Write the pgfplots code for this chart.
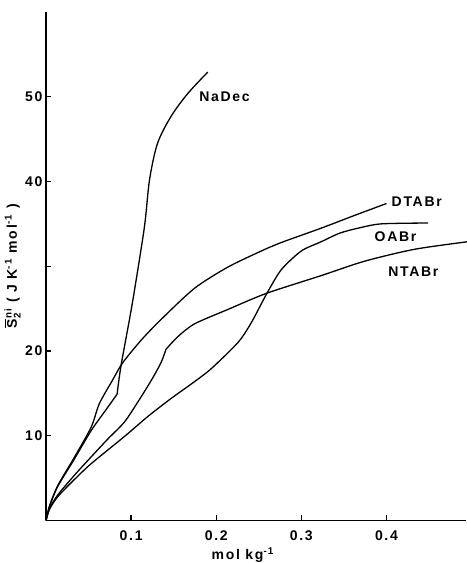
\documentclass[border=0pt]{standalone}
\usepackage{fontspec}
\setmainfont[LetterSpace=12]{Liberation Sans}
\usepackage{amsmath}
\usepackage{pgfplots}
\pgfplotsset{compat=1.18}
\begin{document}
\begin{tikzpicture}[font=\fontsize{14}{16}\selectfont\bfseries]
\begin{axis}[name=ax, scale only axis, width=420pt, height=508pt,
  xmin=0, xmax=0.494, ymin=0, ymax=60,
  axis x line*=bottom, axis y line*=left,
  axis line style={line width=1.7pt, black},
  tick align=inside, major tick length=5pt,
  tick style={line width=1.3pt, black},
  xtick={0.1,0.2,0.3,0.4}, xticklabels={0.1,0.2,0.3,0.4},
  ytick={10,20,30,40,50}, yticklabels={10,20,,40,50},
  xticklabel style={yshift=-7pt},
  clip=false,
  xlabel={mol kg\textsuperscript{-1}},
  every axis x label/.style={at={(axis description cs:0.468,-0.053)}, anchor=north, inner sep=0pt},
  ylabel={$\overline{\textbf{S}}{}^{\textbf{ni}}_{\textbf{2}}$\ ( J K\textsuperscript{-1} mol\textsuperscript{-1} )},
  every axis y label/.style={at={(axis description cs:-0.080,0.5)}, rotate=90, anchor=center},
]
% NaDec
\addplot[line width=1.3pt, black, smooth, tension=0.5] coordinates {(0,0) (0.004,1.6) (0.0137,4.0) (0.033,7.2) (0.053,10.6) (0.07,13.0) (0.0835,14.9)};
\addplot[line width=1.3pt, black, smooth, tension=0.5] coordinates {(0.0835,14.9) (0.088,18.2) (0.098,23.7) (0.104,27.2) (0.1157,34.7) (0.1216,40.2) (0.131,44.5) (0.147,47.7) (0.1667,50.4) (0.190,52.9)};
% DTABr
\addplot[line width=1.3pt, black, smooth, tension=0.45] coordinates {(0,0) (0.004,1.7) (0.0137,4.1) (0.033,7.4) (0.053,11.0) (0.0627,13.8) (0.0784,16.6) (0.090,18.6) (0.112,21.3) (0.135,23.7) (0.1745,27.4) (0.2137,29.9) (0.253,31.8) (0.2765,32.8) (0.3235,34.5) (0.36,35.9) (0.40,37.4)};
% NTABr
\addplot[line width=1.3pt, black, smooth, tension=0.45] coordinates {(0,0) (0.004,1.4) (0.0137,3.0) (0.033,5.3) (0.053,7.5) (0.0725,9.6) (0.092,11.6) (0.108,14.0) (0.1235,16.5) (0.135,18.6) (0.141,20.2)};
\addplot[line width=1.3pt, black, smooth, tension=0.45] coordinates {(0.141,20.2) (0.155,21.7) (0.1745,23.2) (0.2137,24.9) (0.259,26.8) (0.3235,28.9) (0.3745,30.6) (0.433,32.0) (0.496,32.9)};
% OABr
\addplot[line width=1.3pt, black, smooth, tension=0.45] coordinates {(0,0) (0.004,1.3) (0.0137,2.8) (0.033,4.8) (0.053,6.7) (0.092,9.9) (0.120,12.3) (0.147,14.4) (0.172,16.2) (0.194,17.9) (0.2255,21.0) (0.241,23.3) (0.259,26.7) (0.2765,29.6) (0.30,31.8) (0.3235,32.9) (0.345,33.9) (0.367,34.5) (0.394,35.0) (0.449,35.1)};
\node[anchor=west, inner sep=0pt] at (axis cs:0.180,50.0) {NaDec};
\node[anchor=west, inner sep=0pt] at (axis cs:0.406,37.6) {DTABr};
\node[anchor=west, inner sep=0pt] at (axis cs:0.386,33.5) {OABr};
\node[anchor=west, inner sep=0pt] at (axis cs:0.402,29.4) {NTABr};
\end{axis}
\pgfresetboundingbox
\path ([xshift=-46pt,yshift=-42.5pt]ax.south west) rectangle ([yshift=12pt]ax.north east);
\end{tikzpicture}
\end{document}
